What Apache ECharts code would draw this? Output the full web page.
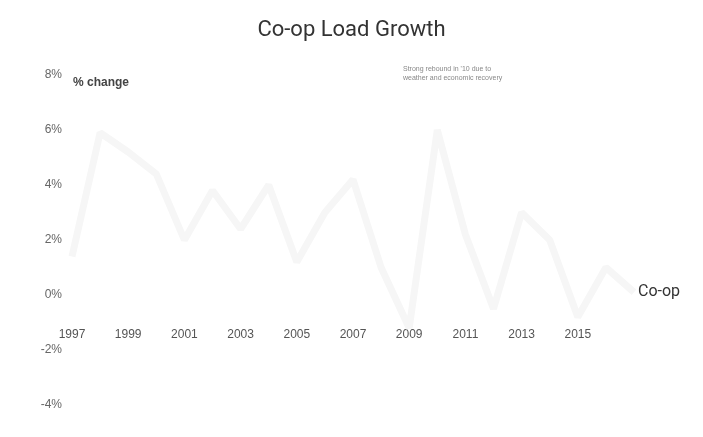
<!DOCTYPE html>
<html lang="en">
<head>
    <meta charset="UTF-8">
    <title>Co-op Load Growth</title>
    <script src="https://cdn.jsdelivr.net/npm/echarts@6/dist/echarts.min.js"></script>
    <style>
        html, body {margin: 0; padding: 0; background: #fff;}
    </style>
</head>
<body>
<div id="main" style="height:437px;width:703px;"></div>

<script type="text/javascript">
    // years and % change in load
    var years = [1997, 1998, 1999, 2000, 2001, 2002, 2003, 2004, 2005, 2006,
                 2007, 2008, 2009, 2010, 2011, 2012, 2013, 2014, 2015, 2016, 2017];
    var coop = [1.4, 5.9, 5.2, 4.4, 2.0, 3.8, 2.4, 4.0, 1.2, 3.0,
                4.2, 1.0, -1.2, 6.0, 2.2, -0.5, 3.0, 2.0, -0.8, 1.0, 0.1];
    var yTicks = {min: -4, max: 8, interval: 2};
    var seriesName = 'Co-op';
    var noteLines = ["Strong rebound in '10 due to", 'weather and economic recovery'];

    var labelFont = "'Liberation Sans Narrow', 'Liberation Sans', sans-serif";

    var myChart = echarts.init(document.getElementById('main'));
    var option = {
        animation: false,
        title: [
            {
                text: 'Co-op Load Growth',
                left: 'center',
                top: 14,
                textStyle: {fontSize: 22, fontWeight: 'normal', color: '#333', fontFamily: 'Roboto, sans-serif'}
            },
            {
                text: '% change',
                left: 68,
                top: 72,
                textStyle: {fontSize: 12, fontWeight: 'bold', color: '#444', fontFamily: labelFont}
            },
            {
                text: noteLines.join('\n'),
                left: 398,
                top: 60,
                textStyle: {fontSize: 7, fontWeight: 'normal', color: '#888', lineHeight: 9, fontFamily: labelFont}
            }
        ],
        grid: {left: 72, right: 69, top: 75, bottom: 32, containLabel: false, outerBoundsMode: 'none'},
        xAxis: {
            type: 'value',
            min: 1997,
            max: 2017,
            interval: 2,
            position: 'bottom',
            offset: -109,
            axisLine: {show: false, onZero: false},
            axisTick: {show: false},
            splitLine: {show: false},
            axisLabel: {
                margin: 33,
                showMaxLabel: false,
                color: '#555',
                fontSize: 12,
                fontFamily: labelFont,
                formatter: function (v) { return String(v); }
            }
        },
        yAxis: {
            type: 'value',
            min: yTicks.min,
            max: yTicks.max,
            interval: yTicks.interval,
            axisLine: {show: false},
            axisTick: {show: false},
            splitLine: {show: false},
            axisLabel: {
                margin: 10,
                color: '#666',
                fontSize: 12,
                fontFamily: labelFont,
                formatter: '{value}%'
            }
        },
        series: [
            {
                name: seriesName,
                type: 'line',
                data: years.map(function (y, i) { return [y, coop[i]]; }),
                showSymbol: false,
                lineStyle: {color: '#f6f6f6', width: 7},
                itemStyle: {color: '#f6f6f6'},
                endLabel: {
                    show: true,
                    distance: 4,
                    formatter: '{a}',
                    color: '#333',
                    fontSize: 16,
                    fontFamily: 'Roboto, sans-serif'
                }
            }
        ]
    };
    myChart.setOption(option);
</script>
</body>
</html>
